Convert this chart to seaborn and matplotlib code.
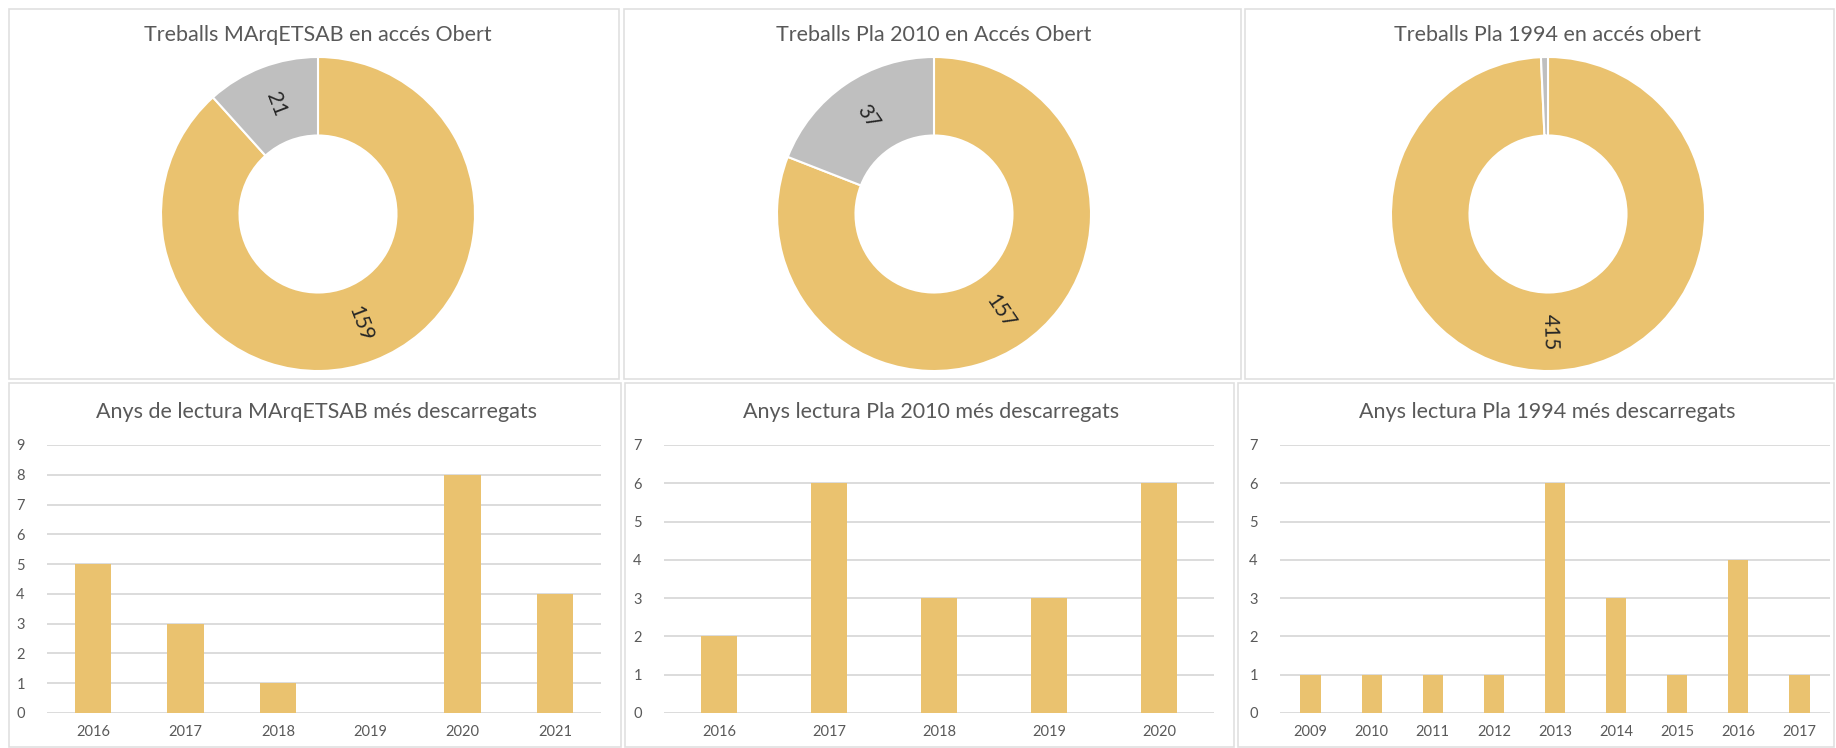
import math
import matplotlib
matplotlib.use("Agg")
import matplotlib.pyplot as plt
import seaborn as sns
from matplotlib.patches import Rectangle

# ============================================================
# DATA
# ============================================================

donut_titles = [
    "Treballs MArqETSAB en accés Obert",
    "Treballs Pla 2010 en Accés Obert",
    "Treballs Pla 1994 en accés obert",
]
open_counts = [159, 157, 415]
closed_counts = [21, 37, 3]

bar_titles = [
    "Anys de lectura MArqETSAB més descarregats",
    "Anys lectura Pla 2010 més descarregats",
    "Anys lectura Pla 1994 més descarregats",
]
years_marq = ["2016", "2017", "2018", "2019", "2020", "2021"]
downloads_marq = [5, 3, 1, 0, 8, 4]
years_2010 = ["2016", "2017", "2018", "2019", "2020"]
downloads_2010 = [2, 6, 3, 3, 6]
years_1994 = ["2009", "2010", "2011", "2012", "2013", "2014", "2015", "2016", "2017"]
downloads_1994 = [1, 1, 1, 1, 6, 3, 1, 4, 1]

# ============================================================
# STYLE
# ============================================================

GOLD = "#EAC26F"
GREY = "#BFBFBF"
GRID = "#D9D9D9"
BORDER = "#E0E0E0"
TEXT = "#595959"

sns.set_theme(style="white")
plt.rcParams["font.family"] = ["Lato", "DejaVu Sans"]

W, H = 1836, 748
fig = plt.figure(figsize=(W / 100, H / 100), dpi=100)
fig.patch.set_facecolor("white")


def px_axes(x0, y0, x1, y1):
    # pixel box (top-left origin) -> figure axes
    return fig.add_axes([x0 / W, 1 - y1 / H, (x1 - x0) / W, (y1 - y0) / H])


def px_text(x, y, s, **kw):
    fig.text(x / W, 1 - y / H, s, ha="center", va="center", **kw)


# panel borders
panels = [
    (9, 9, 619, 379), (624, 9, 1241, 379), (1245, 9, 1834, 379),
    (9, 383, 621, 747), (625, 383, 1234, 747), (1238, 383, 1834, 747),
]
for x0, y0, x1, y1 in panels:
    fig.patches.append(Rectangle((x0 / W, 1 - y1 / H), (x1 - x0) / W, (y1 - y0) / H,
                                 transform=fig.transFigure, fill=False,
                                 edgecolor=BORDER, linewidth=1.2))

# ============================================================
# DONUTS
# ============================================================

donut_centers = [318, 934, 1548]
R = 157
for cx, title, n_open, n_closed in zip(donut_centers, donut_titles, open_counts, closed_counts):
    ax = px_axes(cx - R, 214 - R, cx + R, 214 + R)
    values = [n_open, n_closed]
    wedges, _ = ax.pie(values, colors=[GOLD, GREY], startangle=90, counterclock=False,
                       radius=1, wedgeprops=dict(width=0.5, edgecolor="white", linewidth=1.5))
    ax.set_xlim(-1, 1)
    ax.set_ylim(-1, 1)
    ax.set_aspect("equal")
    ax.axis("off")
    total = sum(values)
    for w, v in zip(wedges, values):
        # tiny slices get no label
        if v / total < 0.05:
            continue
        mid = (w.theta1 + w.theta2) / 2
        a = math.radians(mid)
        rot = mid % 360
        if 90 < rot < 270:
            rot -= 180
        ax.text(0.75 * math.cos(a), 0.75 * math.sin(a), str(v), rotation=rot,
                ha="center", va="center", fontsize=15, color="#262626",
                rotation_mode="anchor")
    px_text(cx, 35, title, fontsize=15.5, color=TEXT)

# ============================================================
# BAR CHARTS
# ============================================================

bar_sets = [
    (years_marq, downloads_marq, 9, (47, 601), 0.39),
    (years_2010, downloads_2010, 7, (664, 1214), 0.32),
    (years_1994, downloads_1994, 7, (1280, 1830), 0.33),
]
for (years, vals, ymax, (gx0, gx1), bw), title in zip(bar_sets, bar_titles):
    ax = px_axes(gx0, 445, gx1, 713)
    sns.barplot(x=years, y=vals, color=GOLD, width=bw, saturation=1,
                linewidth=0, ax=ax, zorder=3)
    ax.set_ylim(0, ymax)
    ax.set_xlim(-0.5, len(years) - 0.5)
    ax.set_yticks(range(0, ymax + 1))
    ax.yaxis.grid(True, color=GRID, linewidth=1.3, zorder=0)
    ax.set_axisbelow(True)
    for sp in ax.spines.values():
        sp.set_visible(False)
    ax.tick_params(axis="both", length=0, labelsize=10.5, labelcolor=TEXT)
    ax.tick_params(axis="x", pad=9)
    ax.tick_params(axis="y", pad=16)
    ax.set_xlabel("")
    ax.set_ylabel("")
    px_text((gx0 + gx1) / 2 - 8, 412, title, fontsize=15.5, color=TEXT)

fig.savefig("out.png", dpi=100, facecolor="white")
